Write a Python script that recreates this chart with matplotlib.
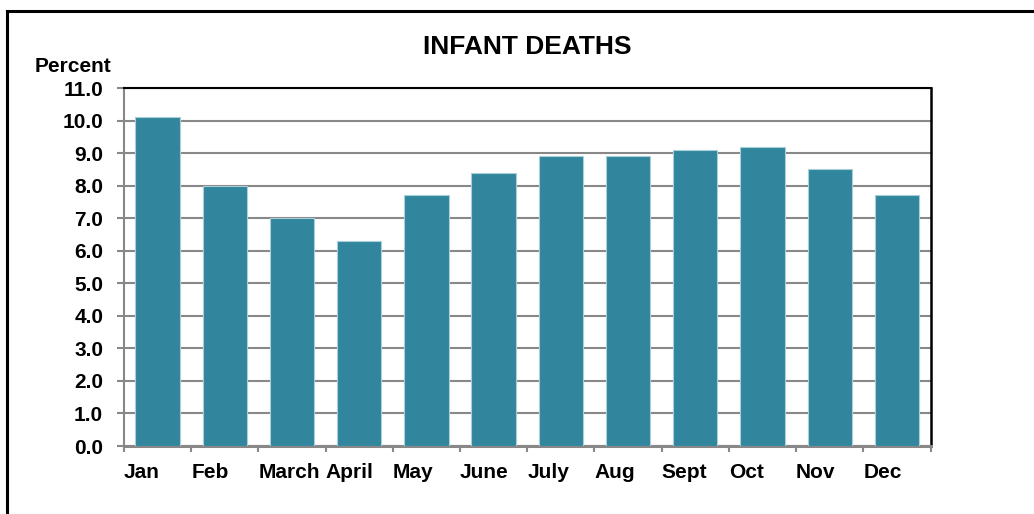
import matplotlib
matplotlib.use("Agg")
import matplotlib.pyplot as plt
from matplotlib.lines import Line2D
import numpy as np

months = ["Jan", "Feb", "March", "April", "May", "June", "July", "Aug", "Sept", "Oct", "Nov", "Dec"]
values = [10.1, 8.0, 7.0, 6.3, 7.7, 8.4, 8.9, 8.9, 9.1, 9.2, 8.5, 7.7]
yticks = [0.0, 1.0, 2.0, 3.0, 4.0, 5.0, 6.0, 7.0, 8.0, 9.0, 10.0, 11.0]

plt.rcParams['font.family'] = ['Liberation Sans', 'DejaVu Sans']
plt.rcParams['font.weight'] = 'bold'

W, H = 1034, 514
fig = plt.figure(figsize=(W / 100, H / 100), dpi=100)
ax = fig.add_axes([124 / W, (H - 446) / H, (930.5 - 124) / W, (446 - 88) / H])

x = np.arange(len(months)) + 0.5
ax.bar(x, values, width=0.66, color='#31859C', edgecolor='#a9cfda', linewidth=0.8, zorder=3)

ax.set_xlim(0, 12)
ax.set_ylim(0, 11)
ax.set_yticks(yticks)
ax.set_yticklabels([f"{v:.1f}" for v in yticks], fontsize=15, fontweight='bold')
ax.set_xticks(np.arange(13))
ax.set_xticklabels(months + [""], fontsize=15, fontweight='bold', ha='left')

ax.grid(axis='y', color='#888888', linewidth=1.5, zorder=0)
ax.set_axisbelow(True)

ax.tick_params(axis='y', direction='out', length=5, width=1.5, color='#888888', pad=10)
ax.tick_params(axis='x', direction='out', length=4, width=1.5, color='#888888', pad=8)

ax.spines['left'].set_color('#888888')
ax.spines['left'].set_linewidth(1.5)
ax.spines['bottom'].set_color('#888888')
ax.spines['bottom'].set_linewidth(2.2)
ax.spines['top'].set_color('black')
ax.spines['top'].set_linewidth(1.5)
ax.spines['right'].set_color('black')
ax.spines['right'].set_linewidth(1.8)

fig.text(527 / W, 1 - 47 / H, "INFANT DEATHS", ha='center', va='center', fontsize=19, fontweight='bold')
fig.text(73 / W, 1 - 66.5 / H, "Percent", ha='center', va='center', fontsize=15, fontweight='bold')

# outer border (top and left visible)
fig.add_artist(Line2D([6.8 / W, 6.8 / W], [0, 1 - 10.5 / H], transform=fig.transFigure, color='black', linewidth=2.2))
fig.add_artist(Line2D([6.8 / W, 1.0], [1 - 10.5 / H, 1 - 10.5 / H], transform=fig.transFigure, color='black', linewidth=2.2, solid_capstyle='projecting'))

fig.savefig("out.png", dpi=100, facecolor='white')
